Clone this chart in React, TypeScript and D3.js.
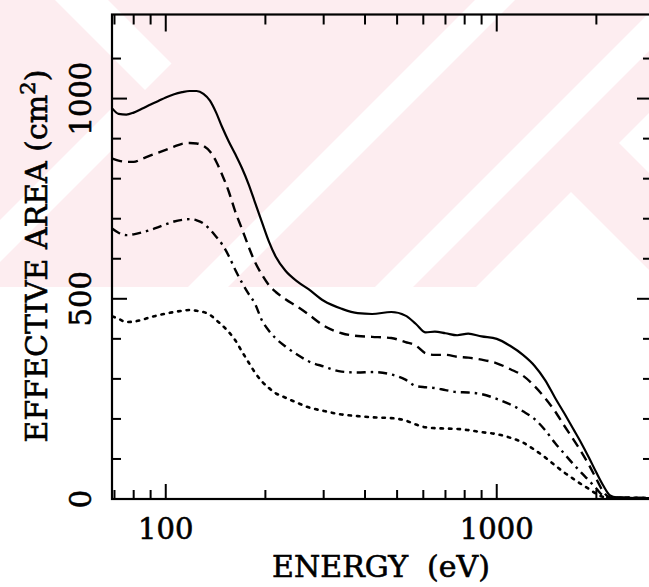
import React from 'react';
import * as d3 from 'd3';

// Energy grid (eV) shared by all four curves
const energies = [69, 72, 76, 80, 85, 90, 95, 100, 106, 112, 118, 124, 130, 136, 142, 148, 155, 162, 170, 178, 186, 195, 205, 215, 230, 250, 270, 300, 340, 380, 420, 480, 530, 570, 610, 650, 700, 760, 820, 900, 1000, 1100, 1200, 1300, 1400, 1500, 1600, 1700, 1800, 1900, 2000, 2100, 2200, 2300, 2500, 2940];

// Effective area (cm^2)
const solidValues = [975, 962, 960, 965, 975, 985, 994, 1003, 1011, 1016, 1019, 1019, 1012, 995, 965, 929, 893, 862, 826, 786, 741, 693, 643, 605, 570, 543, 524, 495, 475, 464, 462, 467, 458, 437, 416, 418, 414, 409, 413, 406, 400, 382, 360, 333, 297, 253, 214, 176, 140, 103, 66, 33, 9, 4, 3, 2];
const dashedValues = [850, 845, 842, 842, 850, 858, 865, 872, 880, 887, 889, 888, 882, 868, 843, 810, 768, 719, 674, 630, 592, 561, 534, 517, 499, 480, 461, 433, 414, 407, 405, 402, 392, 383, 364, 360, 360, 355, 353, 348, 339, 324, 308, 282, 252, 219, 183, 150, 118, 85, 50, 18, 4, 3, 3, 2];
const dashDotValues = [675, 665, 659, 661, 666, 672, 679, 686, 693, 697, 699, 696, 688, 673, 655, 636, 607, 573, 540, 512, 488, 447, 420, 401, 381, 360, 344, 331, 318, 316, 317, 311, 298, 282, 279, 277, 272, 267, 266, 262, 250, 236, 219, 200, 172, 140, 113, 88, 66, 46, 26, 8, 4, 3, 3, 2];
const dottedValues = [456, 450, 442, 443, 448, 454, 459, 463, 467, 470, 472, 470, 467, 460, 447, 434, 417, 397, 368, 341, 316, 294, 277, 264, 253, 240, 229, 220, 211, 207, 204, 202, 196, 186, 179, 177, 176, 175, 172, 167, 162, 153, 141, 123, 104, 84, 66, 51, 37, 25, 13, 5, 3, 3, 3, 2];

// Axis ticks
const xMajorTicks = [100, 1000];
const xMinorTicks = [70, 80, 90, 200, 300, 400, 500, 600, 700, 800, 900, 2000];
const yMajorTicks = [0, 500, 1000];
const yMinorTicks = [100, 200, 300, 400, 600, 700, 800, 900, 1100];

const xTitle = 'ENERGY  (eV)';
const yTitle = 'EFFECTIVE AREA (cm';

const seriesList = [
  { name: 'solid', values: solidValues, dash: 'none', width: 2.2 },
  { name: 'dashed', values: dashedValues, dash: '10 6', width: 2.4 },
  { name: 'dashdot', values: dashDotValues, dash: '9 5 2.5 5', width: 2.4 },
  { name: 'dotted', values: dottedValues, dash: '2.5 6', width: 2.6 },
];

// background watermark (decoration)
const watermark = [
  [[475, 0], [515, 0], [228, 287], [188, 287]],
  [[662, 0], [700, 0], [413, 287], [375, 287]],
  [[571, 192], [666, 287], [476, 287]],
  [[619, 143], [679, 83], [679, 203]],
  [[0, 220], [0, 262], [112, 150], [112, 108]],
  [[55, 0], [108, 0], [171.5, 63.5], [145, 90]],
];

export default function App() {
  const W = 649, H = 587;
  const left = 112, right = 652, top = 14.5, bottom = 499;
  const x = d3.scaleLog().domain([68.8, 2945]).range([left, right]);
  const y = d3.scaleLinear().domain([0, 1210]).range([bottom, top]);
  const line = d3.line<[number, number]>()
    .x(d => x(d[0]))
    .y(d => y(d[1]))
    .curve(d3.curveMonotoneX);

  const major = 15, minor = 9;
  const font = "'DejaVu Serif', serif";
  const textStroke = { stroke: '#000', strokeWidth: 0.6 };

  return (
    <svg width={W} height={H} style={{ position: 'absolute', left: 0, top: 0, background: '#fff' }}>
      <defs>
        <clipPath id="wm">
          <rect x={0} y={0} width={W} height={287} />
        </clipPath>
      </defs>
      <g clipPath="url(#wm)">
        <rect x={0} y={0} width={W} height={287} fill="#fdedf0" />
        {watermark.map((p, i) => (
          <polygon key={i} points={p.map(q => q.join(',')).join(' ')} fill="#fff" />
        ))}
      </g>

      {/* curves */}
      {seriesList.map(s => (
        <path
          key={s.name}
          d={line(energies.map((e, i) => [e, s.values[i]] as [number, number])) || ''}
          fill="none"
          stroke="#000"
          strokeWidth={s.width}
          strokeDasharray={s.dash}
          strokeLinecap={s.name === 'dotted' ? 'round' : 'butt'}
        />
      ))}

      {/* frame */}
      <rect x={left} y={top} width={right - left} height={bottom - top} fill="none" stroke="#000" strokeWidth={2.2} />

      {/* x ticks bottom & top */}
      {xMajorTicks.map(t => (
        <g key={'xM' + t}>
          <line x1={x(t)} x2={x(t)} y1={bottom} y2={bottom - major} stroke="#000" strokeWidth={2} />
          <line x1={x(t)} x2={x(t)} y1={top} y2={top + major + 2} stroke="#000" strokeWidth={2} />
          <text x={x(t)} y={539} textAnchor="middle" fontFamily={font} fontSize={29} {...textStroke}>{t}</text>
        </g>
      ))}
      {xMinorTicks.map(t => (
        <g key={'xm' + t}>
          <line x1={x(t)} x2={x(t)} y1={bottom} y2={bottom - minor} stroke="#000" strokeWidth={2} />
          <line x1={x(t)} x2={x(t)} y1={top} y2={top + minor + 1} stroke="#000" strokeWidth={2} />
        </g>
      ))}

      {/* y ticks left & right */}
      {yMajorTicks.map(t => (
        <g key={'yM' + t}>
          <line x1={left} x2={left + major} y1={y(t)} y2={y(t)} stroke="#000" strokeWidth={2} />
          <line x1={right} x2={right - major} y1={y(t)} y2={y(t)} stroke="#000" strokeWidth={2} />
          <text
            x={91}
            y={y(t)}
            transform={`rotate(-90, 91, ${y(t)})`}
            textAnchor="middle"
            fontFamily={font}
            fontSize={29}
            {...textStroke}
          >{t}</text>
        </g>
      ))}
      {yMinorTicks.map(t => (
        <g key={'ym' + t}>
          <line x1={left} x2={left + minor} y1={y(t)} y2={y(t)} stroke="#000" strokeWidth={2} />
          <line x1={right} x2={right - minor} y1={y(t)} y2={y(t)} stroke="#000" strokeWidth={2} />
        </g>
      ))}

      {/* titles */}
      <text x={381} y={577} textAnchor="middle" fontFamily={font} fontSize={30} style={{ whiteSpace: 'pre' }} {...textStroke}>{xTitle}</text>
      <text
        x={47}
        y={256}
        transform="rotate(-90, 47, 256)"
        textAnchor="middle"
        fontFamily={font}
        fontSize={30}
        {...textStroke}
      >
        {yTitle}
        <tspan fontSize={21} dy={-12}>2</tspan>
        <tspan dy={12}>)</tspan>
      </text>
    </svg>
  );
}
